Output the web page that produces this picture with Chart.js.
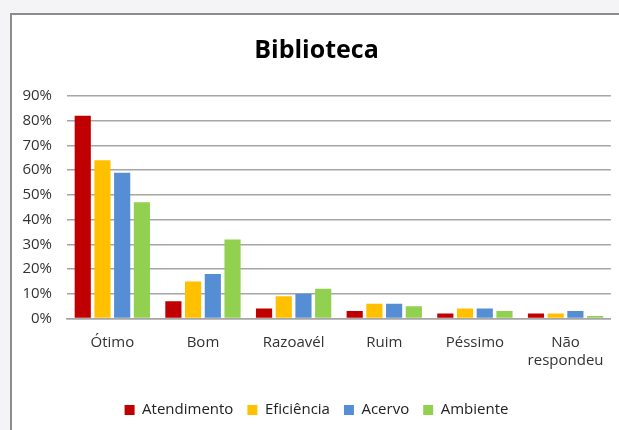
<!DOCTYPE html>
<html>
<head>
<meta charset="utf-8">
<script src="https://cdn.jsdelivr.net/npm/chart.js@4"></script>
<style>
  body { margin: 0; background: #f4f3f5; overflow: hidden; }
  #box {
    position: absolute; left: 10px; top: 13px; width: 640px; height: 440px;
    background: #fff; border-left: 2px solid #8c8c8c; border-top: 2px solid #8c8c8c;
  }
  #wrap { position: absolute; left: 0; top: 0; width: 607px; height: 415px; }
</style>
</head>
<body>
<div id="box"><div id="wrap"><canvas id="Chart"></canvas></div></div>
<script>
const categories = ["Ótimo", "Bom", "Razoavél", "Ruim", "Péssimo", ["Não", "respondeu"]];
const atendimento = [82, 7, 4, 3, 2, 2];
const eficiencia = [64, 15, 9, 6, 4, 2];
const acervo = [59, 18, 10, 6, 4, 3];
const ambiente = [47, 32, 12, 5, 3, 1];

const font = "'Open Sans', 'Noto Sans', sans-serif";
const ctx = document.querySelector("#Chart").getContext("2d");

const bar = (label, color, values) => ({
  label: label,
  data: values,
  backgroundColor: color,
  borderWidth: 0,
  categoryPercentage: 0.87,
  barPercentage: 0.82
});

const chart = new Chart(ctx, {
  type: "bar",
  data: {
    labels: categories,
    datasets: [
      bar("Atendimento", "#c00000", atendimento),
      bar("Eficiência", "#ffc000", eficiencia),
      bar("Acervo", "#558ed5", acervo),
      bar("Ambiente", "#92d050", ambiente)
    ]
  },
  options: {
    responsive: true,
    maintainAspectRatio: false,
    animation: false,
    layout: { padding: { left: 8, right: 6, top: 0, bottom: 2.5 } },
    plugins: {
      title: {
        display: true,
        text: "Biblioteca",
        color: "#000",
        font: { family: font, size: 25, weight: "bold" },
        padding: { top: 21, bottom: 30 }
      },
      legend: {
        position: "bottom",
        labels: {
          boxWidth: 10,
          boxHeight: 10,
          padding: 14,
          color: "#222",
          font: { family: font, size: 15 }
        }
      },
      tooltip: { enabled: false }
    },
    scales: {
      x: {
        grid: { display: false, drawTicks: false },
        border: { color: "#a6a6a6", width: 1.5 },
        ticks: { color: "#333", font: { family: font, size: 15 }, padding: 15 },
        afterFit: axis => { axis.height += 4; }
      },
      y: {
        min: 0,
        max: 90,
        grid: { color: "#a6a6a6", lineWidth: 1.5, drawTicks: false },
        border: { display: false },
        ticks: {
          stepSize: 10,
          color: "#333",
          padding: 15,
          font: { family: font, size: 15 },
          callback: v => v + "%"
        },
        afterFit: axis => { axis.width = 47; }
      }
    }
  }
});
</script>
</body>
</html>
